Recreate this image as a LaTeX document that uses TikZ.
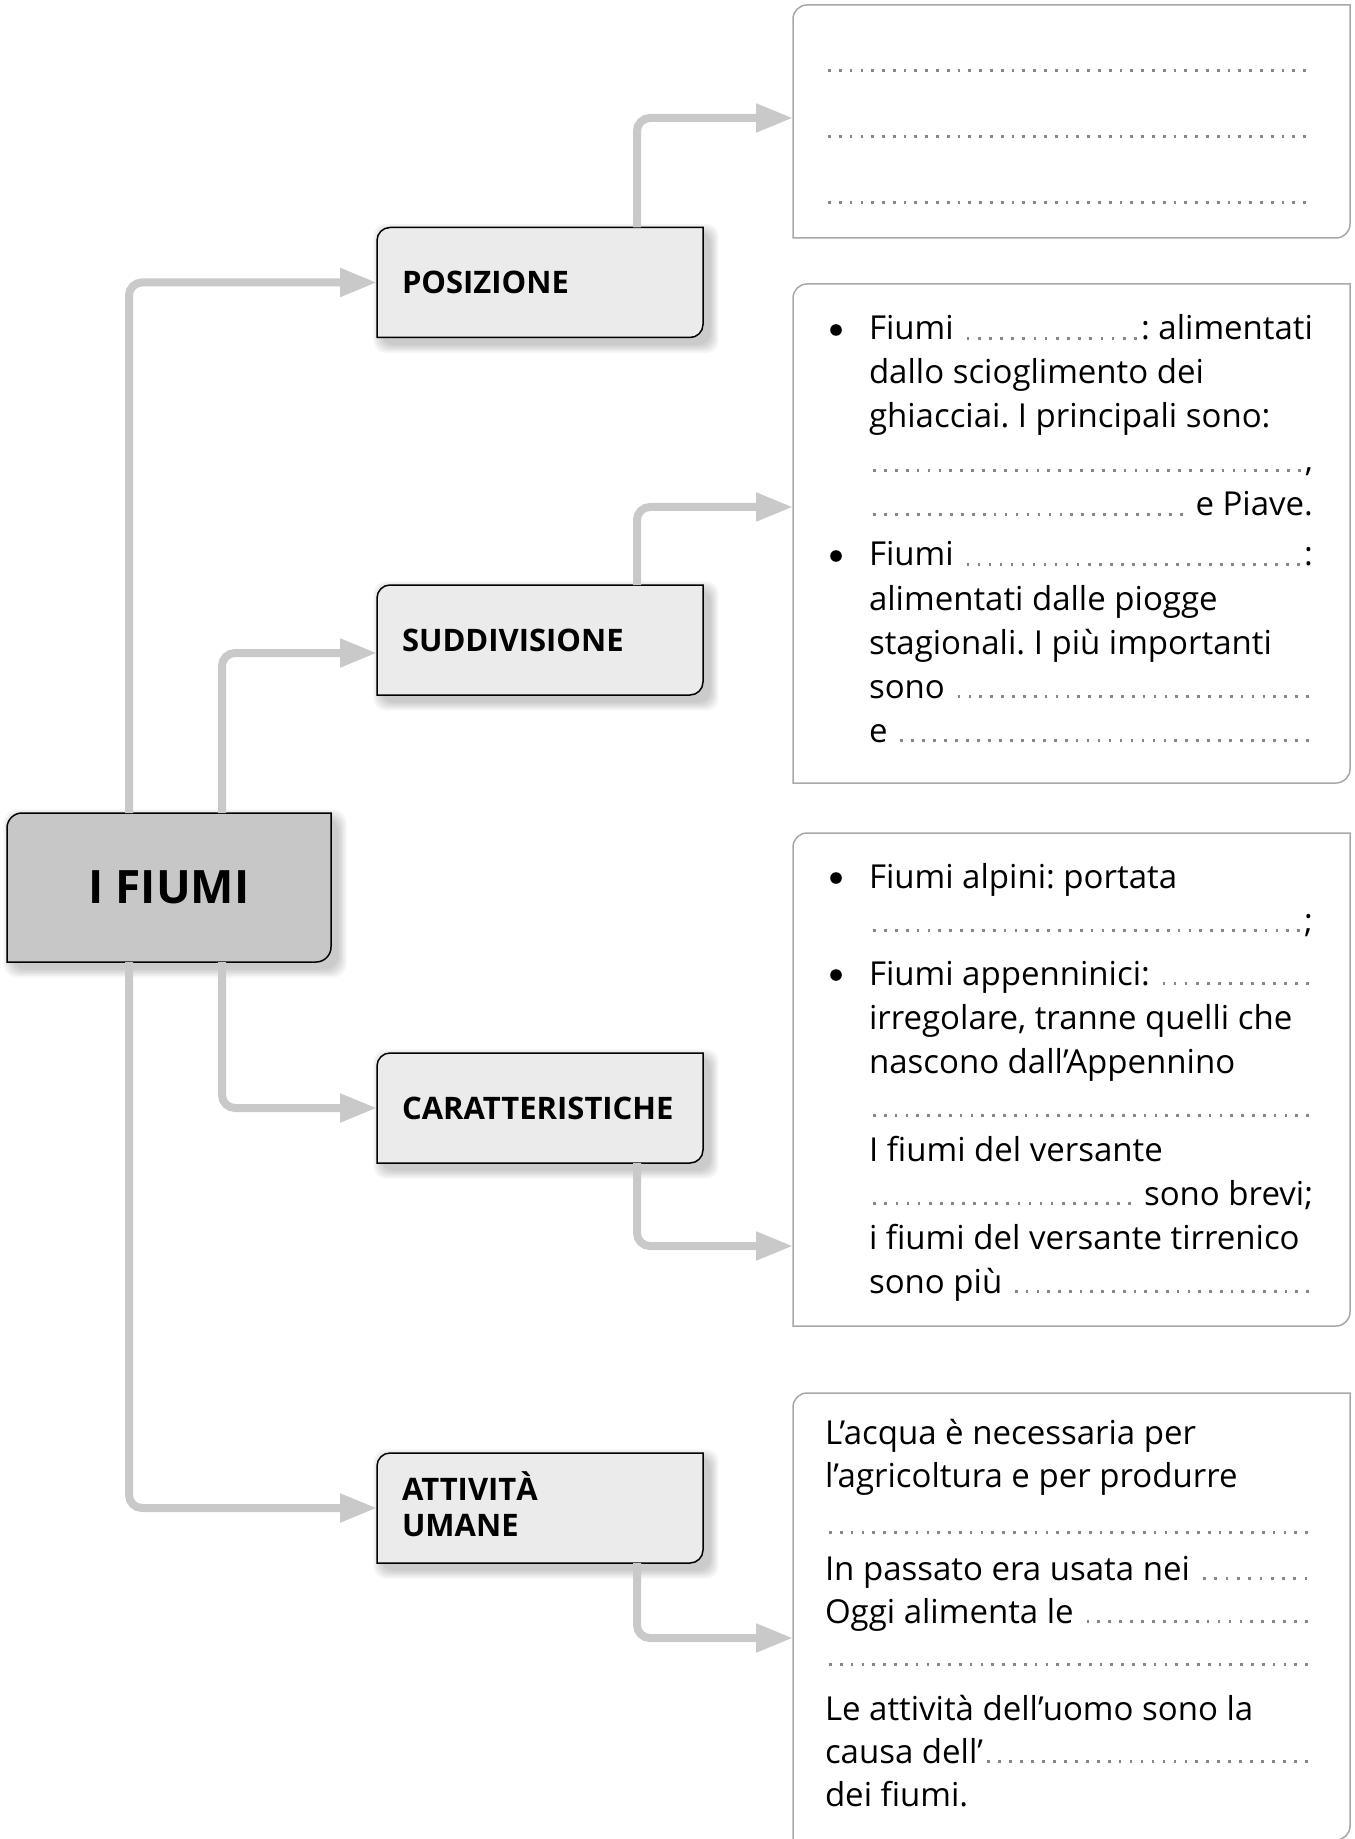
\documentclass[tikz,border=0pt]{standalone}
\usepackage{fontspec}
\setmainfont{Open Sans}[Ligatures=NoCommon]
\usetikzlibrary{arrows.meta}
\pgfdeclarelayer{bg}
\pgfsetlayers{bg,main}

\definecolor{conngray}{RGB}{200,201,200}
\definecolor{mainfill}{RGB}{198,199,198}
\definecolor{lblfill}{RGB}{235,235,235}
\definecolor{rboxline}{RGB}{168,168,168}
\definecolor{dotgray}{RGB}{135,135,135}

\newcommand\bodyfont{\fontsize{16.5}{22}\selectfont\frenchspacing}
\newcommand\lblfont{\fontsize{15.5}{18}\selectfont\bfseries}
\newcommand\titlefont{\fontsize{23}{28}\selectfont\bfseries}

% dotted blank to be filled in
\newcommand\blank{\xleaders\hbox to 5.35pt{\hss\textcolor{dotgray}{\rule{1.35pt}{1.35pt}}\hss}\hfill}

% frame with rounded top-left and bottom-right corners
\newcommand\cutframe[3]{%
  \path[#3] (#1.south west) -- ([yshift=-#2]#1.north west)
    arc[start angle=180,end angle=90,radius=#2] -- (#1.north east)
    -- ([yshift=#2]#1.south east)
    arc[start angle=0,end angle=-90,radius=#2] -- cycle;}

% soft drop shadow towards bottom right
\newcommand\softshade[2]{%
  \foreach \g in {1,...,6}{%
    \fill[black,opacity=0.035,rounded corners=#2]
      ([xshift={(3-0.8*\g)*1pt},yshift={(-3-0.8*\g)*1pt}]#1.south west) rectangle
      ([xshift={(3+0.8*\g)*1pt},yshift={(-3+0.8*\g)*1pt}]#1.north east);}}

\tikzset{
  titlebox/.style={rectangle, inner sep=0pt, outer sep=0pt,
    minimum width=162pt, minimum height=74.5pt, font=\titlefont},
  lbl/.style={rectangle, inner xsep=12.5pt, inner ysep=0pt, outer sep=0pt,
    minimum width=163pt, minimum height=55pt, text width=138pt,
    align=left, font=\lblfont},
  rbox/.style={rectangle, inner sep=0pt, outer sep=0pt, minimum width=278.5pt},
  conn/.style={draw=conngray, line width=4pt, rounded corners=6.5pt,
    -{Triangle[length=18.5pt,width=13.5pt]}},
  txt/.style={anchor=base west, inner sep=0pt, outer sep=0pt, font=\bodyfont},
  bul/.style={circle, fill=black, inner sep=0pt, outer sep=0pt, minimum size=5.8pt},
}

\begin{document}
\begin{tikzpicture}[x=0.5pt,y=-0.5pt]
\useasboundingbox (0,0) rectangle (1354,1839);

% central topic and the four headings
\node[titlebox] (fiumi) at (169,887.5) {I FIUMI};
\node[lbl] (pos) at (540,282.5) {POSIZIONE};
\node[lbl] (sud) at (540,640) {SUDDIVISIONE};
\node[lbl] (car) at (540,1108) {CARATTERISTICHE};
\node[lbl] (att) at (540,1508) {ATTIVIT\smash{À}\\UMANE};

% answer boxes
\node[rbox, minimum height=116.5pt] (b1) at (1071.5,121.5) {};
\node[rbox, minimum height=249.5pt] (b2) at (1071.5,533.5) {};
\node[rbox, minimum height=246.5pt] (b3) at (1071.5,1079.5) {};
\node[rbox, minimum height=223.5pt] (b4) at (1071.5,1616.5) {};

% box 1: three blank lines
\node[txt] (b1l1) at (824,72) {\hbox to 243pt{\blank}};
\node[txt] (b1l2) at (824,138) {\hbox to 243pt{\blank}};
\node[txt] (b1l3) at (824,204) {\hbox to 243pt{\blank}};

% box 2
\node[bul] (b2p1) at (836,330) {};
\node[txt] (b2l1) at (869,340) {\hbox to 222pt{Fiumi \blank: alimentati}};
\node[txt] (b2l2) at (869,384) {dallo scioglimento dei};
\node[txt] (b2l3) at (869,428) {ghiacciai. I principali sono:};
\node[txt] (b2l4) at (869,472) {\hbox to 222pt{\blank,}};
\node[txt] (b2l5) at (869,516) {\hbox to 222pt{\blank\ e Piave.}};
\node[bul] (b2p2) at (836,556) {};
\node[txt] (b2l6) at (869,566) {\hbox to 222pt{Fiumi \blank:}};
\node[txt] (b2l7) at (869,610) {alimentati dalle piogge};
\node[txt] (b2l8) at (869,654) {stagionali. I più importanti};
\node[txt] (b2l9) at (869,698) {\hbox to 222pt{sono \blank}};
\node[txt] (b2l10) at (869,742) {\hbox to 222pt{e \blank}};

% box 3
\node[bul] (b3p1) at (836,878) {};
\node[txt] (b3l1) at (869,888) {Fiumi alpini: portata};
\node[txt] (b3l2) at (869,932) {\hbox to 222pt{\blank;}};
\node[bul] (b3p2) at (836,975) {};
\node[txt] (b3l3) at (869,985) {\hbox to 222pt{Fiumi appenninici: \blank}};
\node[txt] (b3l4) at (869,1029) {irregolare, tranne quelli che};
\node[txt] (b3l5) at (869,1073) {nascono dall’Appennino};
\node[txt] (b3l6) at (869,1117) {\hbox to 222pt{\blank}};
\node[txt] (b3l7) at (869,1161) {I fiumi del versante};
\node[txt] (b3l8) at (869,1205) {\hbox to 222pt{\blank\ sono brevi;}};
\node[txt] (b3l9) at (869,1249) {i fiumi del versante tirrenico};
\node[txt] (b3l10) at (869,1293) {\hbox to 222pt{sono più \blank}};

% box 4
\node[txt] (b4l1) at (825,1444) {L’acqua è necessaria per};
\node[txt] (b4l2) at (825,1487) {l’agricoltura e per produrre};
\node[txt] (b4l3) at (825,1534) {\hbox to 243.5pt{\blank}};
\node[txt] (b4l4) at (825,1580) {\hbox to 243.5pt{In passato era usata nei \blank}};
\node[txt] (b4l5) at (825,1623) {\hbox to 243.5pt{Oggi alimenta le \blank}};
\node[txt] (b4l6) at (825,1666) {\hbox to 243.5pt{\blank}};
\node[txt] (b4l7) at (825,1720) {Le attività dell’uomo sono la};
\node[txt] (b4l8) at (825,1763) {\hbox to 243.5pt{causa dell’\blank}};
\node[txt] (b4l9) at (825,1806) {dei fiumi.};

% connectors from the central topic
\draw[conn] ([xshift=61pt]fiumi.north west) |- (pos.west);
\draw[conn] ([xshift=107.5pt]fiumi.north west) |- ([yshift=-6.5pt]sud.west);
\draw[conn] ([xshift=107.5pt]fiumi.south west) |- (car.west);
\draw[conn] ([xshift=61pt]fiumi.south west) |- (att.west);

% connectors from the headings to the answer boxes
\draw[conn] ([xshift=-33pt]pos.north east) |- ([yshift=1.75pt]b1.west);
\draw[conn] ([xshift=-33pt]sud.north east) |- ([yshift=13.25pt]b2.west);
\draw[conn] ([xshift=-33pt]car.south east) |- ([yshift=-83.25pt]b3.west);
\draw[conn] ([xshift=-33pt]att.south east) |- ([yshift=-10.75pt]b4.west);

% frames, fills and shadows underneath
\begin{pgfonlayer}{bg}
  \fill[white] (0,0) rectangle (1354,1839);
  \softshade{fiumi}{7pt}
  \cutframe{fiumi}{7.5pt}{fill=mainfill, draw=black, line width=0.75pt}
  \foreach \n in {pos,sud,car,att}{%
    \softshade{\n}{6pt}
    \cutframe{\n}{6.5pt}{fill=lblfill, draw=black, line width=0.75pt}}
  \foreach \n in {b1,b2,b3,b4}{%
    \cutframe{\n}{7pt}{fill=white, draw=rboxline, line width=0.75pt}}
\end{pgfonlayer}
\end{tikzpicture}
\end{document}
